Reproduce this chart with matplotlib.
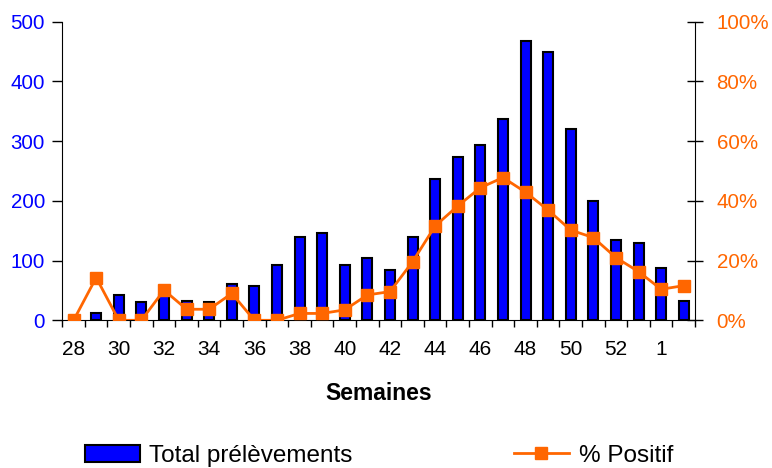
import matplotlib.pyplot as plt
from matplotlib.ticker import PercentFormatter, MultipleLocator, FixedLocator
import numpy as np

plt.rcParams['font.family'] = ['Liberation Sans', 'DejaVu Sans']

# semaines 28 à 53 puis 1 et 2 de l'année suivante
semaines = [28, 29, 30, 31, 32, 33, 34, 35, 36, 37, 38, 39, 40, 41, 42, 43, 44, 45,
            46, 47, 48, 49, 50, 51, 52, 53, 1, 2]
total_prelevements = [5, 13, 43, 30, 42, 33, 30, 60, 57, 93, 140, 147, 93, 104, 84, 140,
                      237, 274, 294, 337, 467, 450, 320, 200, 134, 130, 87, 33]
pct_positif = [0, 14.3, 0, 0, 10.1, 3.7, 3.7, 9.0, 0, 0, 2.3, 2.3, 3.5, 8.5, 9.6, 19.6,
               31.6, 38.3, 44.4, 47.8, 42.9, 36.9, 30.2, 27.7, 21.0, 16.3, 10.4, 11.6]

bleu = '#0000FF'
orange = '#FF6600'

x = np.arange(len(semaines))

fig = plt.figure(figsize=(7.72, 4.68), dpi=100)
ax = fig.add_axes([0.0807, 0.3156, 0.8196, 0.638])

ax.bar(x, total_prelevements, width=0.44, color=bleu, edgecolor='black', linewidth=1.5,
       zorder=2)
ax.set_xlim(-0.5, len(semaines) - 0.5)
ax.set_ylim(0, 500)
ax.yaxis.set_major_locator(MultipleLocator(100))
ax.tick_params(axis='y', colors=bleu, labelsize=14.8, length=7, width=1, pad=5.5)
ax.tick_params(axis='y', color='black')

# étiquettes une semaine sur deux, graduations entre les catégories
ax.set_xticks(x[::2])
ax.set_xticklabels([str(s) for s in semaines[::2]])
ax.xaxis.set_minor_locator(FixedLocator(np.arange(-0.5, len(semaines), 1)))
ax.tick_params(axis='x', which='major', length=0, labelsize=15, pad=14)
ax.tick_params(axis='x', which='minor', length=5, width=1, color='black')
ax.set_xlabel('Semaines', fontsize=16.5, fontweight='bold', labelpad=17)

for s in ['top', 'right']:
    ax.spines[s].set_visible(False)

ax2 = ax.twinx()
ax2.plot(x, np.array(pct_positif) / 100, color=orange, linewidth=2, marker='s',
         markersize=8, zorder=3)
ax2.set_ylim(0, 1)
ax2.yaxis.set_major_locator(MultipleLocator(0.2))
ax2.yaxis.set_major_formatter(PercentFormatter(1.0, decimals=0))
ax2.tick_params(axis='y', colors=orange, labelsize=14.8, direction='inout', length=12,
                width=1, pad=9.5)
ax2.tick_params(axis='y', color='black')
for s in ['top', 'left', 'bottom']:
    ax2.spines[s].set_visible(False)

# deux légendes séparées en bas de la figure
leg_opts = dict(loc='center left', frameon=False, fontsize=17.5, handlelength=2.25,
                handletextpad=0.4, borderpad=0, borderaxespad=0)
fig.legend([ax.containers[0]], ['Total prélèvements'],
           bbox_to_anchor=(0.110, 0.026), **leg_opts)
fig.legend([ax2.lines[0]], ['% Positif'],
           bbox_to_anchor=(0.666, 0.026), **leg_opts)

fig.savefig('out.png', dpi=100)
